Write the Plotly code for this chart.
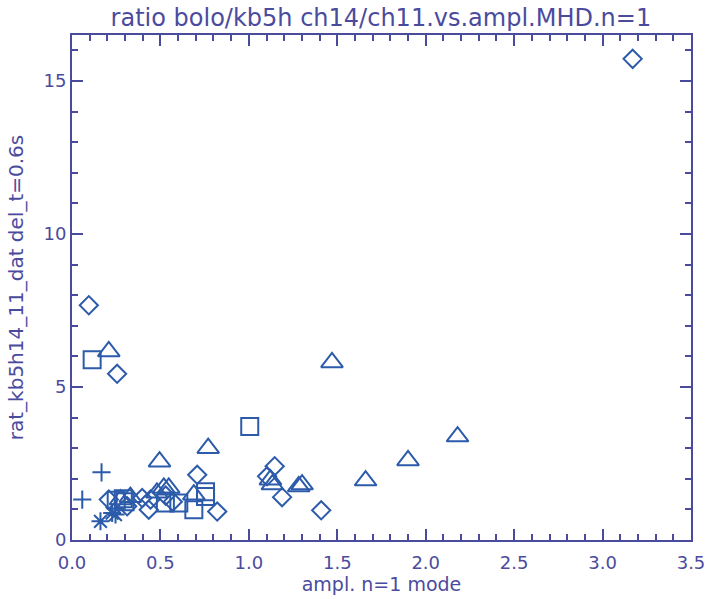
import plotly.graph_objects as go

# ---- data ----
diamond_x = [3.17, 0.095, 0.255, 1.146, 1.103, 1.188, 1.409, 0.208, 0.312, 0.397, 0.434, 0.444, 0.708, 0.821, 0.53, 0.57]
diamond_y = [15.72, 7.67, 5.43, 2.41, 2.08, 1.40, 0.97, 1.32, 1.10, 1.37, 0.99, 1.32, 2.13, 0.93, 1.45, 1.25]

square_x = [0.114, 1.005, 0.25, 0.29, 0.528, 0.604, 0.689, 0.755, 0.755, 0.30]
square_y = [5.89, 3.71, 1.30, 1.35, 1.21, 1.21, 0.99, 1.42, 1.58, 1.25]

triangle_x = [0.208, 0.495, 0.77, 1.47, 1.122, 1.133, 1.282, 1.301, 1.66, 1.90, 2.18, 0.274, 0.48, 0.519, 0.547, 0.689, 0.33]
triangle_y = [6.16, 2.56, 3.0, 5.8, 1.97, 1.81, 1.75, 1.81, 1.94, 2.6, 3.38, 1.32, 1.54, 1.70, 1.70, 1.48, 1.40]

plus_x = [0.058, 0.167]
plus_y = [1.32, 2.21]

star_x = [0.161, 0.227, 0.246]
star_y = [0.61, 0.88, 0.83]

title = "ratio bolo/kb5h ch14/ch11.vs.ampl.MHD.n=1"
x_title = "ampl. n=1 mode"
y_title = "rat_kb5h14_11_dat del_t=0.6s"

mcol = "#2C5BAA"
acol = "#4B4B9E"
font_family = "DejaVu Sans"

fig = go.Figure()
lw = 2


def add(x, y, symbol, size):
    fig.add_trace(go.Scatter(
        x=x, y=y, mode="markers", showlegend=False,
        marker=dict(symbol=symbol, size=size, color=mcol,
                    line=dict(color=mcol, width=lw)),
    ))


add(diamond_x, diamond_y, "diamond-open", 14)
add(square_x, square_y, "square-open", 17)
add(triangle_x, triangle_y, "triangle-up-open", 19)
add(plus_x, plus_y, "cross-thin-open", 13)
add(star_x, star_y, "asterisk-open", 15)

axis_common = dict(
    showgrid=False, zeroline=False, automargin=False,
    showline=True, linecolor=acol, linewidth=2,
    mirror="allticks", ticks="inside", ticklen=11, tickwidth=2, tickcolor=acol,
    tickfont=dict(family=font_family, size=18, color=acol),
)

fig.update_xaxes(
    range=[0, 3.5], dtick=0.5, tick0=0, tickformat=".1f",
    minor=dict(dtick=0.1, ticks="inside", ticklen=6, tickwidth=2, tickcolor=acol),
    title=dict(text=x_title, font=dict(family=font_family, size=19, color=acol), standoff=2),
    ticklabelstandoff=5,
    **axis_common,
)
fig.update_yaxes(
    range=[0, 16.5], dtick=5, tick0=0,
    minor=dict(dtick=1, ticks="inside", ticklen=6, tickwidth=2, tickcolor=acol),
    title=dict(text=y_title, font=dict(family=font_family, size=20, color=acol), standoff=14),
    ticklabelstandoff=0,
    **axis_common,
)

fig.update_layout(
    width=708, height=599,
    margin=dict(l=72, r=17, t=35, b=59),
    plot_bgcolor="white", paper_bgcolor="white",
    title=dict(text=title, x=0.538, xanchor="center", y=0.985, yanchor="top",
               font=dict(family=font_family, size=24, color=acol)),
)

fig.write_html("out.html")
